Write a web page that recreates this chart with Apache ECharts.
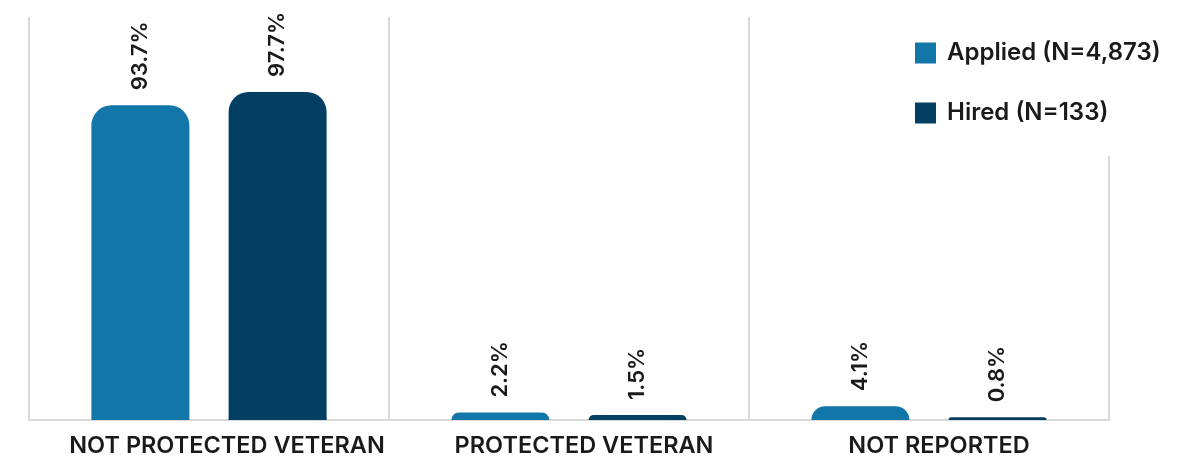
<!DOCTYPE html>
<html><head><meta charset="utf-8">
<script src="https://cdn.jsdelivr.net/npm/echarts@6/dist/echarts.min.js"></script>
<style>html,body{margin:0;padding:0;background:#fff}#c{width:1199px;height:460px}</style>
</head><body><div id="c"></div>
<script>
const categories = ['NOT PROTECTED VETERAN', 'PROTECTED VETERAN', 'NOT REPORTED'];
const appliedName = 'Applied (N=4,873)';
const hiredName = 'Hired (N=133)';
const applied = [93.7, 2.2, 4.1];
const hired = [97.7, 1.5, 0.8];

const FONT = 'Inter';
const chart = echarts.init(document.getElementById('c'));
const labelCfg = {
  show: true, position: 'top', rotate: 90, distance: 15,
  align: 'left', verticalAlign: 'middle',
  formatter: p => p.value.toFixed(1) + '%',
  fontFamily: FONT, fontSize: 22, fontWeight: 600, color: '#1a1a1a'
};
const catText = { fontFamily: FONT, fontSize: 23.5, fontWeight: 600, color: '#1a1a1a' };
const catRich = {
  c0: Object.assign({ padding: [0, 0, 0, 36] }, catText),
  c1: Object.assign({ padding: [0, 0, 0, 30] }, catText),
  c2: Object.assign({ padding: [0, 0, 0, 20] }, catText)
};
chart.setOption({
  animation: false,
  grid: { left: 29, right: 90, top: 17, bottom: 40 },
  legend: {
    orient: 'vertical', left: 905, top: 17,
    padding: [24, 10, 31, 10], backgroundColor: '#fff',
    itemWidth: 21, itemHeight: 21, itemGap: 36, icon: 'rect',
    textStyle: { fontFamily: FONT, fontSize: 24, fontWeight: 600, color: '#1a1a1a', lineHeight: 21, padding: [0, 0, 0, 6] },
    data: [appliedName, hiredName]
  },
  xAxis: {
    type: 'category', data: categories,
    axisLine: { lineStyle: { color: '#d9d9d9', width: 2 } },
    axisTick: { show: false },
    splitLine: { show: true, interval: 0, lineStyle: { color: '#d9d9d9', width: 2 } },
    axisLabel: {
      interval: 0, margin: 14,
      formatter: (v, i) => '{c' + i + '|' + v + '}',
      rich: catRich
    }
  },
  yAxis: {
    type: 'value', min: 0, max: 120,
    axisLine: { show: false }, axisTick: { show: false },
    splitLine: { show: false }, axisLabel: { show: false }
  },
  series: [
    { name: appliedName, type: 'bar', data: applied, barWidth: 98, barGap: '40%',
      itemStyle: { color: '#1277a8', borderRadius: [20, 20, 0, 0] }, label: labelCfg },
    { name: hiredName, type: 'bar', data: hired, barWidth: 98, barGap: '40%',
      itemStyle: { color: '#023f62', borderRadius: [20, 20, 0, 0] }, label: labelCfg }
  ]
});
</script></body></html>
